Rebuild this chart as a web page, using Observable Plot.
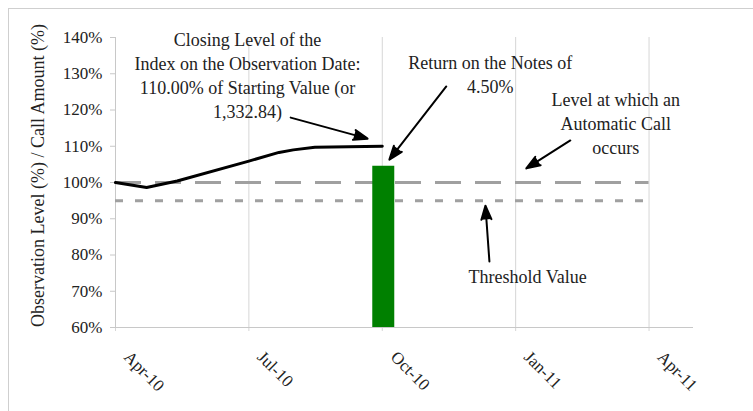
<!DOCTYPE html>
<html>
<head>
<meta charset="utf-8">
<script src="https://cdn.jsdelivr.net/npm/d3@7"></script>
<script src="https://cdn.jsdelivr.net/npm/@observablehq/plot@0.6"></script>
<style>
  html, body { margin: 0; padding: 0; background: #fff; }
  #wrap { position: relative; width: 753px; height: 411px; overflow: hidden; }
  #frame { position: absolute; left: 8px; top: 8px; width: 800px; height: 500px;
           border-top: 1px solid #cfcfcf; border-left: 1px solid #cfcfcf; pointer-events: none; }
</style>
</head>
<body>
<div id="wrap"><div id="frame"></div></div>
<script>
// ---- data ----
const tickLabels = ["Apr-10", "Jul-10", "Oct-10", "Jan-11", "Apr-11"];
const tickDates = ["2010-04-01", "2010-07-01", "2010-10-01", "2011-01-01", "2011-04-01"];
const axisEndDate = "2011-05-01";
const yTicks = [60, 70, 80, 90, 100, 110, 120, 130, 140];

const indexDates = ["2010-04-01", "2010-04-22", "2010-05-13", "2010-07-01", "2010-07-22", "2010-08-01", "2010-08-16", "2010-10-01"];
const indexLevels = [100, 98.6, 100.4, 105.9, 108.3, 109.0, 109.7, 110.0];

const observationDate = "2010-10-01";
const callReturn = 4.5;          // return on the notes (%)
const callLevel = 100;           // automatic call level (%)
const thresholdLevel = 95;       // threshold value (%)

const yTitle = "Observation Level (%) / Call Amount (%)";
const noteTexts = [
  "Closing Level of the\nIndex on the Observation Date:\n110.00% of Starting Value (or\n1,332.84)",
  "Return on the Notes of\n4.50%",
  "Level at which an\nAutomatic Call\noccurs",
  "Threshold Value"
];

// months since Apr-10 (Excel date axis with monthly base unit)
function m(s) {
  const [y, mo, d] = s.split("-").map(Number);
  const dim = new Date(Date.UTC(y, mo, 0)).getUTCDate();
  return (y - 2010) * 12 + (mo - 4) + (d - 1) / dim;
}

const lineData = indexDates.map((d, i) => ({x: m(d), y: indexLevels[i]}));
const ticks = tickDates.map((d, i) => ({x: m(d), label: tickLabels[i]}));
const xStart = m(tickDates[0]), xEnd = m(axisEndDate), xLast = m(tickDates[tickDates.length - 1]);
const obsX = m(observationDate);

const notes = [
  {x: 2.97, y: 129.8, text: noteTexts[0]},
  {x: 8.43, y: 130.2, text: noteTexts[1]},
  {x: 11.25, y: 116.7, text: noteTexts[2]},
  {x: 9.27, y: 74.3, text: noteTexts[3]}
];
const arrows = [
  {x1: 3.94, y1: 117.9, x2: 5.67, y2: 112.1},
  {x1: 7.44, y1: 126.5, x2: 6.16, y2: 106.3},
  {x1: 10.23, y1: 111.6, x2: 9.24, y2: 103.9},
  {x1: 8.41, y1: 78.2, x2: 8.32, y2: 93.6}
];

const serif = "'Liberation Serif', 'Times New Roman', 'DejaVu Serif', serif";
const grid = "#d6d6d6";

const chart = Plot.plot({
  width: 753,
  height: 411,
  marginLeft: 115,
  marginRight: 60,
  marginTop: 37,
  marginBottom: 84,
  style: {fontFamily: serif, fontSize: "17px", color: "#222", background: "transparent"},
  x: {type: "linear", domain: [xStart, xEnd], axis: null},
  y: {domain: [60, 140], axis: null},
  marks: [
    // vertical gridlines
    Plot.ruleX(ticks, {x: "x", y1: 60, y2: 140, stroke: grid}),
    // x tick marks
    Plot.axisX(ticks.map(t => t.x), {tickSize: 4, tickFormat: () => "", stroke: grid, anchor: "bottom"}),
    // axis lines
    Plot.ruleX([xStart], {y1: 60, y2: 140, stroke: "#c8c8c8"}),
    Plot.ruleY([60], {x1: xStart, x2: xEnd, stroke: "#c8c8c8"}),
    // y axis
    Plot.axisY(yTicks, {tickSize: 5, tickPadding: 8, tickFormat: d => d + "%", stroke: "#c8c8c8", fill: "#222", fontSize: 17}),
    // call level & threshold
    Plot.ruleY([callLevel], {x1: xStart, x2: xLast, stroke: "#a0a0a0", strokeWidth: 3, strokeDasharray: "26,14"}),
    Plot.ruleY([thresholdLevel], {x1: xStart, x2: xLast, stroke: "#a0a0a0", strokeWidth: 3, strokeDasharray: "8,12"}),
    // return bar
    Plot.ruleX([obsX], {y1: 60, y2: callLevel + callReturn, stroke: "#008000", strokeWidth: 22, dx: 1}),
    // index line
    Plot.line(lineData, {x: "x", y: "y", stroke: "#000", strokeWidth: 3}),
    // x tick labels
    Plot.text(ticks, {x: "x", text: "label", frameAnchor: "bottom", dy: 22, dx: 16, rotate: 45,
      textAnchor: "start", lineAnchor: "top", fontSize: 17, fill: "#222"}),
    // y axis title
    Plot.text([yTitle], {frameAnchor: "left", dx: -77, dy: -7, rotate: -90, textAnchor: "middle",
      lineAnchor: "middle", fontSize: 18, fill: "#222"}),
    // annotations
    Plot.text(notes, {x: "x", y: "y", text: "text", lineAnchor: "middle", lineHeight: 1.33, fontSize: 18, fill: "#222"}),
    Plot.arrow(arrows, {x1: "x1", y1: "y1", x2: "x2", y2: "y2", stroke: "#000", fill: "#000", strokeWidth: 2,
      headLength: 11, headAngle: 40, strokeLinejoin: "miter"})
  ]
});
document.getElementById("wrap").prepend(chart);
chart.style.position = "absolute";
chart.style.left = "0";
chart.style.top = "0";
</script>
</body>
</html>
